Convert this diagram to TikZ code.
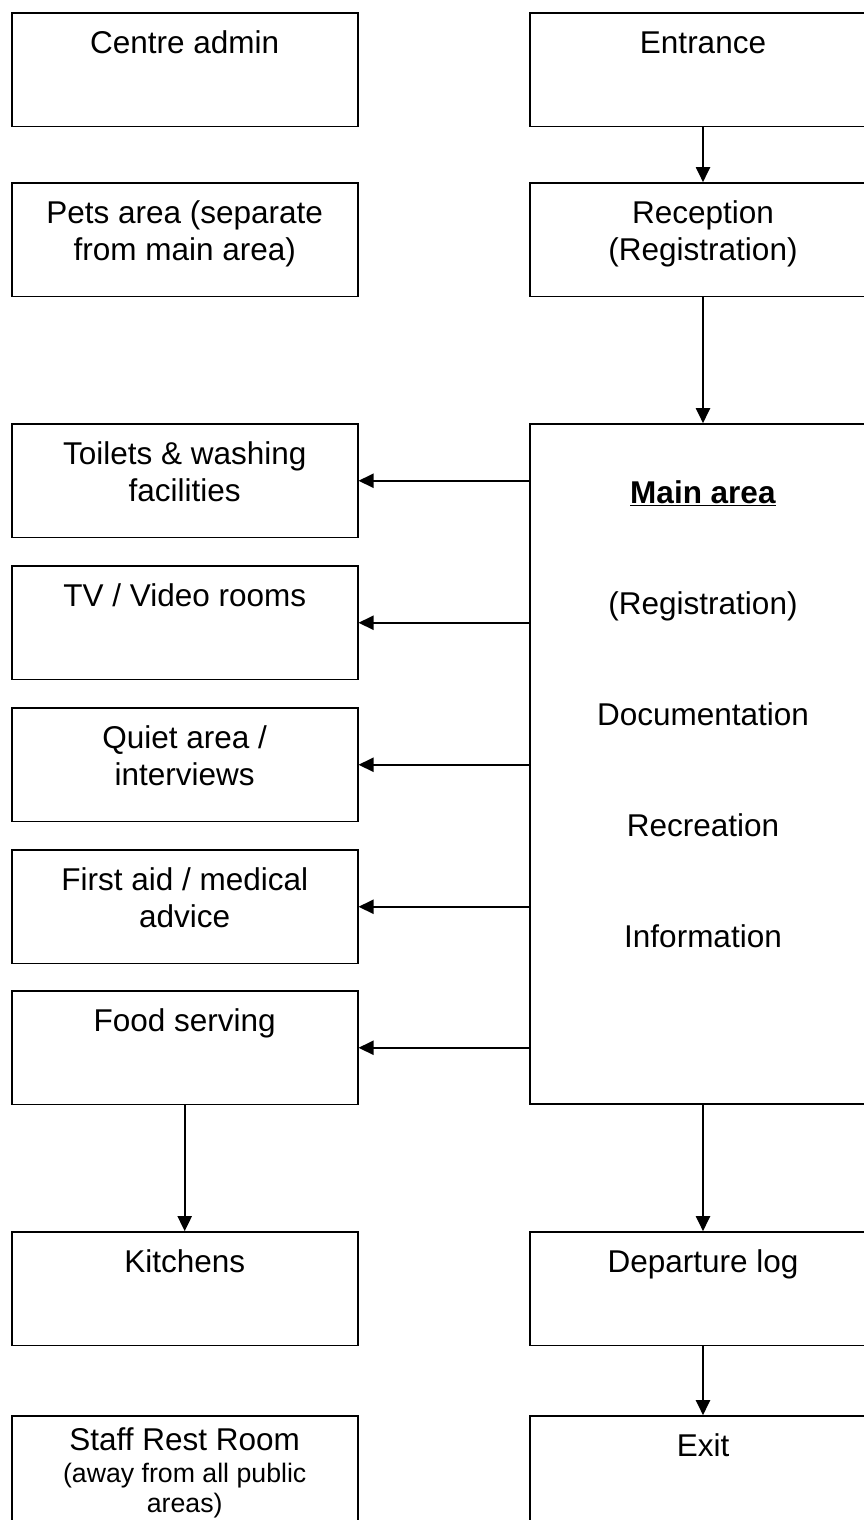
\documentclass[tikz,border=0pt]{standalone}
\usepackage{fontspec}
\setmainfont{Liberation Sans}
\usetikzlibrary{arrows.meta}

% body text size used in every room box
\newcommand\bodysize{\fontsize{31.5}{37}\selectfont}
% #1 box height, #2 space above first line, #3 text
\newcommand\roomtext[3]{\parbox[c][#1][t]{346pt}{\bodysize\centering\vspace*{#2}\strut #3}}

\tikzset{
  room/.style={draw=black, line width=1.6pt, inner sep=0pt, fill=white},
  flow/.style={draw=black, line width=2pt, -{Triangle[length=15pt,width=14pt]}},
}

\begin{document}
\begin{tikzpicture}[x=1pt,y=-1pt]
\useasboundingbox[fill=white] (0,0) rectangle (863,1520);

% left column
\node[room] (admin)    at (184.7,69.75)   {\roomtext{113.5pt}{14.6pt}{Centre admin}};
\node[room] (pets)     at (184.7,239.75)  {\roomtext{113.5pt}{14.6pt}{Pets area (separate\\from main area)}};
\node[room] (toilets)  at (184.7,480.75)  {\roomtext{113.5pt}{14.6pt}{Toilets \& washing\\facilities}};
\node[room] (tv)       at (184.7,622.75)  {\roomtext{113.5pt}{14.6pt}{TV / Video rooms}};
\node[room] (quiet)    at (184.7,764.75)  {\roomtext{113.5pt}{14.6pt}{Quiet area /\\interviews}};
\node[room] (firstaid) at (184.7,906.75)  {\roomtext{113.5pt}{14.6pt}{First aid / medical\\advice}};
\node[room] (food)     at (184.7,1047.75) {\roomtext{113.5pt}{14.6pt}{Food serving}};
\node[room] (kitchens) at (184.7,1288.75) {\roomtext{113.5pt}{14.6pt}{Kitchens}};
\node[room] (staff)    at (184.7,1472.75) {\roomtext{113.5pt}{8.1pt}{Staff Rest Room\par\vspace{1.3pt}%
  \fontsize{26.7}{30.7}\selectfont(away from all public\\areas)}};

% right column
\node[room] (entrance)  at (703,69.75)   {\roomtext{113.5pt}{14.6pt}{Entrance}};
\node[room] (reception) at (703,239.75)  {\roomtext{113.5pt}{14.6pt}{Reception\\(Registration)}};
\node[room] (main)      at (703,764)     {\roomtext{680pt}{53.1pt}{\underline{\textbf{Main area}}\\[74pt]%
  (Registration)\\[74pt]Documentation\\[74pt]Recreation\\[74pt]Information}};
\node[room] (departure) at (703,1288.75) {\roomtext{113.5pt}{14.6pt}{Departure log}};
\node[room] (exit)      at (703,1472.75) {\roomtext{113.5pt}{14.6pt}{Exit}};

% flow through the centre
\draw[flow] (entrance) -- (reception);
\draw[flow] (reception) -- (main);
\draw[flow] (main) -- (departure);
\draw[flow] (departure) -- (exit);
\draw[flow] (food) -- (kitchens);

% branches from the main area
\foreach \n in {toilets,tv,quiet,firstaid,food}
  \draw[flow] (main.west |- \n.east) -- (\n.east);
\end{tikzpicture}
\end{document}
